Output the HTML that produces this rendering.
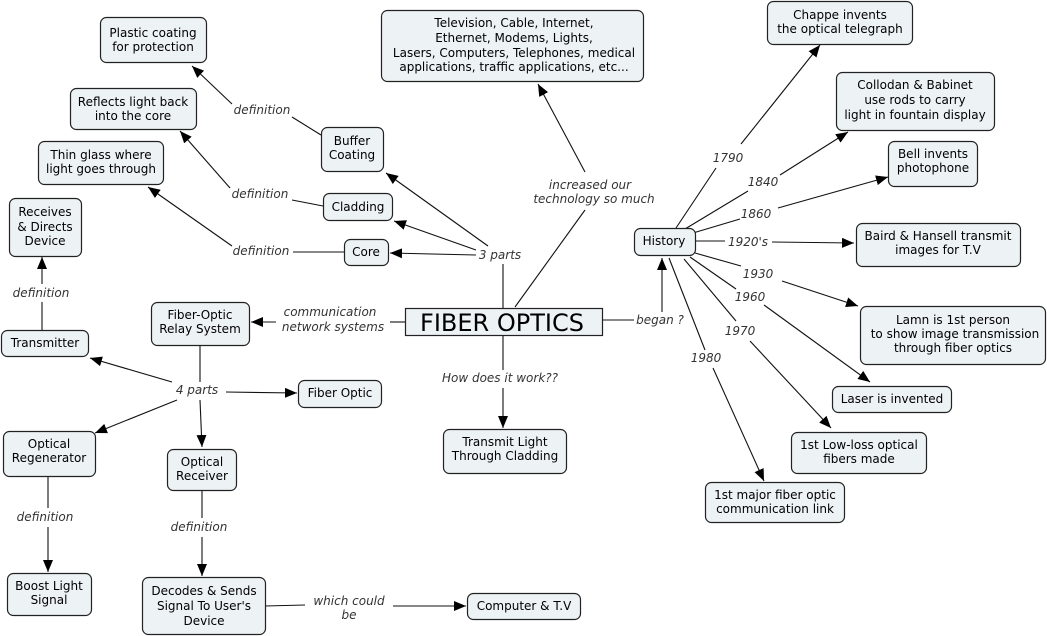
<!DOCTYPE html>
<html><head><meta charset="utf-8"><style>
html,body{margin:0;padding:0;background:#fff;}
svg{display:block;}
.n{fill:#edf2f5;stroke:#222;stroke-width:1.2;}
.t{font-family:"DejaVu Sans","Liberation Sans",sans-serif;font-size:12px;fill:#000;text-anchor:middle;}
.l{font-family:"DejaVu Sans","Liberation Sans",sans-serif;font-size:12px;font-style:italic;fill:#333;text-anchor:middle;}
line,polyline{stroke:#111;stroke-width:1.1;fill:none;}
</style></head><body>
<svg width="1047" height="636" viewBox="0 0 1047 636" xmlns="http://www.w3.org/2000/svg">
<defs>
<marker id="a" viewBox="0 0 12 10" refX="12" refY="5" markerWidth="12" markerHeight="10" markerUnits="userSpaceOnUse" orient="auto">
<path d="M0,0 L12,5 L0,10 z" fill="#000"/></marker>
<clipPath id="tvc"><rect x="382" y="10" width="260" height="71"/></clipPath>
</defs>

<!-- links -->
<line x1="321" y1="135" x2="292" y2="117"/><line x1="232" y1="104" x2="192" y2="66" marker-end="url(#a)"/>
<line x1="323" y1="206" x2="292" y2="200"/><line x1="230" y1="188" x2="180" y2="131" marker-end="url(#a)"/>
<line x1="344" y1="252" x2="293" y2="252"/><line x1="232" y1="246" x2="148" y2="187" marker-end="url(#a)"/>
<line x1="503" y1="308" x2="503" y2="264"/>
<line x1="476" y1="255" x2="390" y2="253" marker-end="url(#a)"/>
<line x1="476" y1="250" x2="394" y2="221" marker-end="url(#a)"/>
<line x1="488" y1="246" x2="386" y2="173" marker-end="url(#a)"/>
<line x1="515" y1="307" x2="585" y2="210"/><line x1="585" y1="172" x2="538" y2="84" marker-end="url(#a)"/>
<line x1="602" y1="320" x2="634" y2="320"/><line x1="662" y1="312" x2="662" y2="258" marker-end="url(#a)"/>
<line x1="405" y1="322" x2="390" y2="322"/><line x1="276" y1="322" x2="251" y2="322" marker-end="url(#a)"/>
<line x1="503" y1="335" x2="503" y2="370"/><line x1="503" y1="388" x2="503" y2="428" marker-end="url(#a)"/>
<line x1="200" y1="346" x2="200" y2="382"/>
<line x1="172" y1="382" x2="90" y2="358" marker-end="url(#a)"/>
<line x1="226" y1="392" x2="297" y2="393" marker-end="url(#a)"/>
<line x1="177" y1="400" x2="95" y2="433" marker-end="url(#a)"/>
<line x1="200" y1="400" x2="202" y2="447" marker-end="url(#a)"/>
<line x1="42" y1="330" x2="42" y2="302"/><line x1="42" y1="284" x2="42" y2="257" marker-end="url(#a)"/>
<line x1="48" y1="476" x2="48" y2="508"/><line x1="48" y1="527" x2="48" y2="572" marker-end="url(#a)"/>
<line x1="202" y1="490" x2="202" y2="518"/><line x1="202" y1="537" x2="202" y2="576" marker-end="url(#a)"/>
<line x1="265" y1="606" x2="305" y2="605"/><line x1="393" y1="606" x2="466" y2="606" marker-end="url(#a)"/>
<!-- history -->
<line x1="676" y1="228" x2="716" y2="168"/><line x1="741" y1="144" x2="820" y2="45" marker-end="url(#a)"/>
<line x1="685" y1="229" x2="748" y2="191"/><line x1="780" y1="175" x2="848" y2="132" marker-end="url(#a)"/>
<line x1="693" y1="233" x2="740" y2="219"/><line x1="778" y1="208" x2="888" y2="177" marker-end="url(#a)"/>
<line x1="696" y1="241" x2="725" y2="241"/><line x1="772" y1="242" x2="854" y2="243" marker-end="url(#a)"/>
<line x1="695" y1="253" x2="741" y2="266"/><line x1="782" y1="281" x2="858" y2="306" marker-end="url(#a)"/>
<line x1="690" y1="257" x2="736" y2="289"/><line x1="764" y1="305" x2="870" y2="382" marker-end="url(#a)"/>
<line x1="684" y1="259" x2="736" y2="321"/><line x1="750" y1="341" x2="831" y2="428" marker-end="url(#a)"/>
<line x1="669" y1="258" x2="705" y2="350"/><line x1="713" y1="368" x2="764" y2="481" marker-end="url(#a)"/>

<!-- link labels -->
<text class="l" x="262" y="114">definition</text>
<text class="l" x="260" y="198">definition</text>
<text class="l" x="261" y="255">definition</text>
<text class="l" x="500" y="259">3 parts</text>
<text class="l" x="590" y="189">increased our</text>
<text class="l" x="594" y="203">technology so much</text>
<text class="l" x="660" y="324">began ?</text>
<text class="l" x="330" y="316">communication</text>
<text class="l" x="333" y="331">network systems</text>
<text class="l" x="500" y="382">How does it work??</text>
<text class="l" x="197" y="394">4 parts</text>
<text class="l" x="41" y="297">definition</text>
<text class="l" x="45" y="521">definition</text>
<text class="l" x="199" y="531">definition</text>
<text class="l" x="349" y="605">which could</text>
<text class="l" x="349" y="619">be</text>
<text class="l" x="728" y="162">1790</text>
<text class="l" x="763" y="186">1840</text>
<text class="l" x="756" y="218">1860</text>
<text class="l" x="748" y="246">1920's</text>
<text class="l" x="758" y="278">1930</text>
<text class="l" x="750" y="301">1960</text>
<text class="l" x="740" y="335">1970</text>
<text class="l" x="706" y="362">1980</text>

<!-- nodes -->
<rect class="n" x="100.5" y="17.5" width="106" height="45" rx="6"/><text class="t" x="153" y="37">Plastic coating</text><text class="t" x="153" y="51">for protection</text>
<rect class="n" x="70.5" y="88.5" width="126" height="41" rx="6"/><text class="t" x="133" y="106">Reflects light back</text><text class="t" x="133" y="120">into the core</text>
<rect class="n" x="38.5" y="141.5" width="125" height="43" rx="6"/><text class="t" x="101" y="159">Thin glass where</text><text class="t" x="101" y="173">light goes through</text>
<rect class="n" x="9.5" y="198.5" width="72" height="58" rx="6"/><text class="t" x="45" y="216">Receives</text><text class="t" x="45" y="231">&amp; Directs</text><text class="t" x="45" y="245">Device</text>
<rect class="n" x="1.5" y="330.5" width="87" height="26" rx="6"/><text class="t" x="45" y="347">Transmitter</text>
<rect class="n" x="321.5" y="127.5" width="62" height="44" rx="6"/><text class="t" x="352" y="145">Buffer</text><text class="t" x="352" y="159">Coating</text>
<rect class="n" x="323.5" y="193.5" width="69" height="27" rx="6"/><text class="t" x="358" y="211">Cladding</text>
<rect class="n" x="344.5" y="239.5" width="44" height="26" rx="6"/><text class="t" x="366" y="256">Core</text>
<rect class="n" x="151.5" y="302.5" width="98" height="43" rx="6"/><text class="t" x="200" y="319">Fiber-Optic</text><text class="t" x="200" y="333">Relay System</text>
<rect x="405.5" y="308.5" width="197" height="27" fill="#edf2f5" stroke="#222" stroke-width="1.2"/><text class="t" x="502" y="331" style="font-size:24px">FIBER OPTICS</text>
<rect class="n" x="298.5" y="380.5" width="83" height="27" rx="6"/><text class="t" x="340" y="397">Fiber Optic</text>
<rect class="n" x="3.5" y="431.5" width="92" height="45" rx="6"/><text class="t" x="49" y="448">Optical</text><text class="t" x="49" y="462">Regenerator</text>
<rect class="n" x="167.5" y="449.5" width="69" height="41" rx="6"/><text class="t" x="202" y="466">Optical</text><text class="t" x="202" y="480">Receiver</text>
<rect class="n" x="443.5" y="429.5" width="123" height="44" rx="6"/><text class="t" x="505" y="446">Transmit Light</text><text class="t" x="505" y="460">Through Cladding</text>
<rect class="n" x="7.5" y="573.5" width="84" height="42" rx="6"/><text class="t" x="49" y="590">Boost Light</text><text class="t" x="49" y="604">Signal</text>
<rect class="n" x="142.5" y="577.5" width="123" height="57" rx="6"/><text class="t" x="204" y="595">Decodes &amp; Sends</text><text class="t" x="204" y="610">Signal To User's</text><text class="t" x="204" y="625">Device</text>
<rect class="n" x="467.5" y="593.5" width="113" height="26" rx="6"/><text class="t" x="524" y="610">Computer &amp; T.V</text>
<rect class="n" x="381.5" y="10.5" width="262" height="71" rx="6"/>
<g clip-path="url(#tvc)"><text class="t" x="514" y="27">Television, Cable, Internet,</text><text class="t" x="514" y="42">Ethernet, Modems, Lights,</text><text class="t" x="514" y="57">Lasers, Computers, Telephones, medical</text><text class="t" x="514" y="71">applications, traffic applications, etc...</text></g>
<rect class="n" x="634.5" y="228.5" width="61" height="27" rx="6"/><text class="t" x="664" y="245">History</text>
<rect class="n" x="767.5" y="1.5" width="145" height="43" rx="6"/><text class="t" x="840" y="19">Chappe invents</text><text class="t" x="840" y="33">the optical telegraph</text>
<rect class="n" x="836.5" y="72.5" width="158" height="58" rx="6"/><text class="t" x="915" y="89">Collodan &amp; Babinet</text><text class="t" x="915" y="104">use rods to carry</text><text class="t" x="915" y="119">light in fountain display</text>
<rect class="n" x="888.5" y="141.5" width="89" height="45" rx="6"/><text class="t" x="933" y="158">Bell invents</text><text class="t" x="933" y="172">photophone</text>
<rect class="n" x="856.5" y="223.5" width="164" height="43" rx="6"/><text class="t" x="938" y="240">Baird &amp; Hansell transmit</text><text class="t" x="938" y="254">images for T.V</text>
<rect class="n" x="860.5" y="306.5" width="185" height="58" rx="6"/><text class="t" x="953" y="324">Lamn is 1st person</text><text class="t" x="955" y="338">to show image transmission</text><text class="t" x="953" y="352">through fiber optics</text>
<rect class="n" x="832.5" y="386.5" width="119" height="26" rx="6"/><text class="t" x="892" y="403">Laser is invented</text>
<rect class="n" x="791.5" y="432.5" width="135" height="41" rx="6"/><text class="t" x="859" y="449">1st Low-loss optical</text><text class="t" x="859" y="463">fibers made</text>
<rect class="n" x="705.5" y="482.5" width="139" height="40" rx="6"/><text class="t" x="775" y="499">1st major fiber optic</text><text class="t" x="775" y="513">communication link</text>
</svg>
</body></html>
